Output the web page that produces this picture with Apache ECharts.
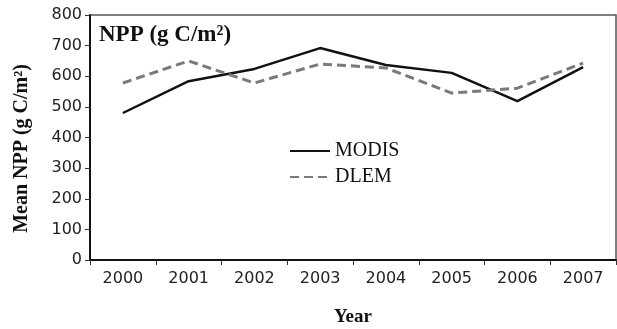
<!DOCTYPE html>
<html><head><meta charset="utf-8">
<script src="https://cdn.jsdelivr.net/npm/echarts@6/dist/echarts.min.js"></script>
<style>html,body{margin:0;padding:0;background:#fff}#c{width:617px;height:329px}</style>
</head><body><div id="c"></div>
<script>
const years = ['2000','2001','2002','2003','2004','2005','2006','2007'];
const modis = [480, 584, 624, 692, 637, 611, 519, 630];
const dlem = [578, 650, 578, 640, 627, 545, 561, 643];
const yTicks = [0, 100, 200, 300, 400, 500, 600, 700, 800];

const chart = echarts.init(document.getElementById('c'));
chart.setOption({
  animation: false,
  backgroundColor: '#fff',
  title: {
    text: 'NPP (g C/m\u00B2)', left: 94, top: 19,
    textStyle: {fontFamily: 'Liberation Serif', fontWeight: 'bold', fontSize: 23, color: '#111'}
  },
  legend: {
    orient: 'vertical', left: 284, top: 136, itemWidth: 40, itemHeight: 14, itemGap: 6,
    itemStyle: {opacity: 0},
    textStyle: {fontFamily: 'Liberation Serif', fontSize: 20, color: '#111'},
    data: ['MODIS', 'DLEM']
  },
  grid: {left: 90, right: 1, top: 15, bottom: 69, show: true, borderColor: '#555', borderWidth: 1.5,
    containLabel: false, outerBoundsMode: 'none'},
  xAxis: {
    type: 'category', data: years, boundaryGap: true,
    name: 'Year', nameLocation: 'middle', nameGap: 48,
    nameTextStyle: {fontFamily: 'Liberation Serif', fontWeight: 'bold', fontSize: 19, color: '#111'},
    axisLine: {lineStyle: {color: '#111', width: 2}},
    axisTick: {show: true, length: 5, lineStyle: {color: '#333'}},
    axisLabel: {fontFamily: 'DejaVu Sans', fontSize: 16, color: '#222', margin: 11}
  },
  yAxis: {
    type: 'value', min: 0, max: 800, interval: 100,
    name: 'Mean NPP (g C/m\u00B2)', nameLocation: 'middle', nameRotate: 90, nameGap: 58,
    nameTextStyle: {fontFamily: 'Liberation Serif', fontWeight: 'bold', fontSize: 20, color: '#111',
      padding: [0, 22, 0, 0]},
    axisLine: {show: true, lineStyle: {color: '#111', width: 2}},
    axisTick: {show: true, length: 5, lineStyle: {color: '#333'}},
    splitLine: {show: false},
    axisLabel: {fontFamily: 'DejaVu Sans', fontSize: 16, color: '#222', margin: 8,
      formatter: v => yTicks.includes(v) ? String(v) : ''}
  },
  series: [
    {name: 'MODIS', type: 'line', data: modis, symbol: 'none',
     lineStyle: {color: '#111', width: 2.5}, itemStyle: {color: '#111'}},
    {name: 'DLEM', type: 'line', data: dlem, symbol: 'none',
     lineStyle: {color: '#7a7a7a', width: 3, type: [9, 5]}, itemStyle: {color: '#7a7a7a'}}
  ]
});
</script></body></html>
